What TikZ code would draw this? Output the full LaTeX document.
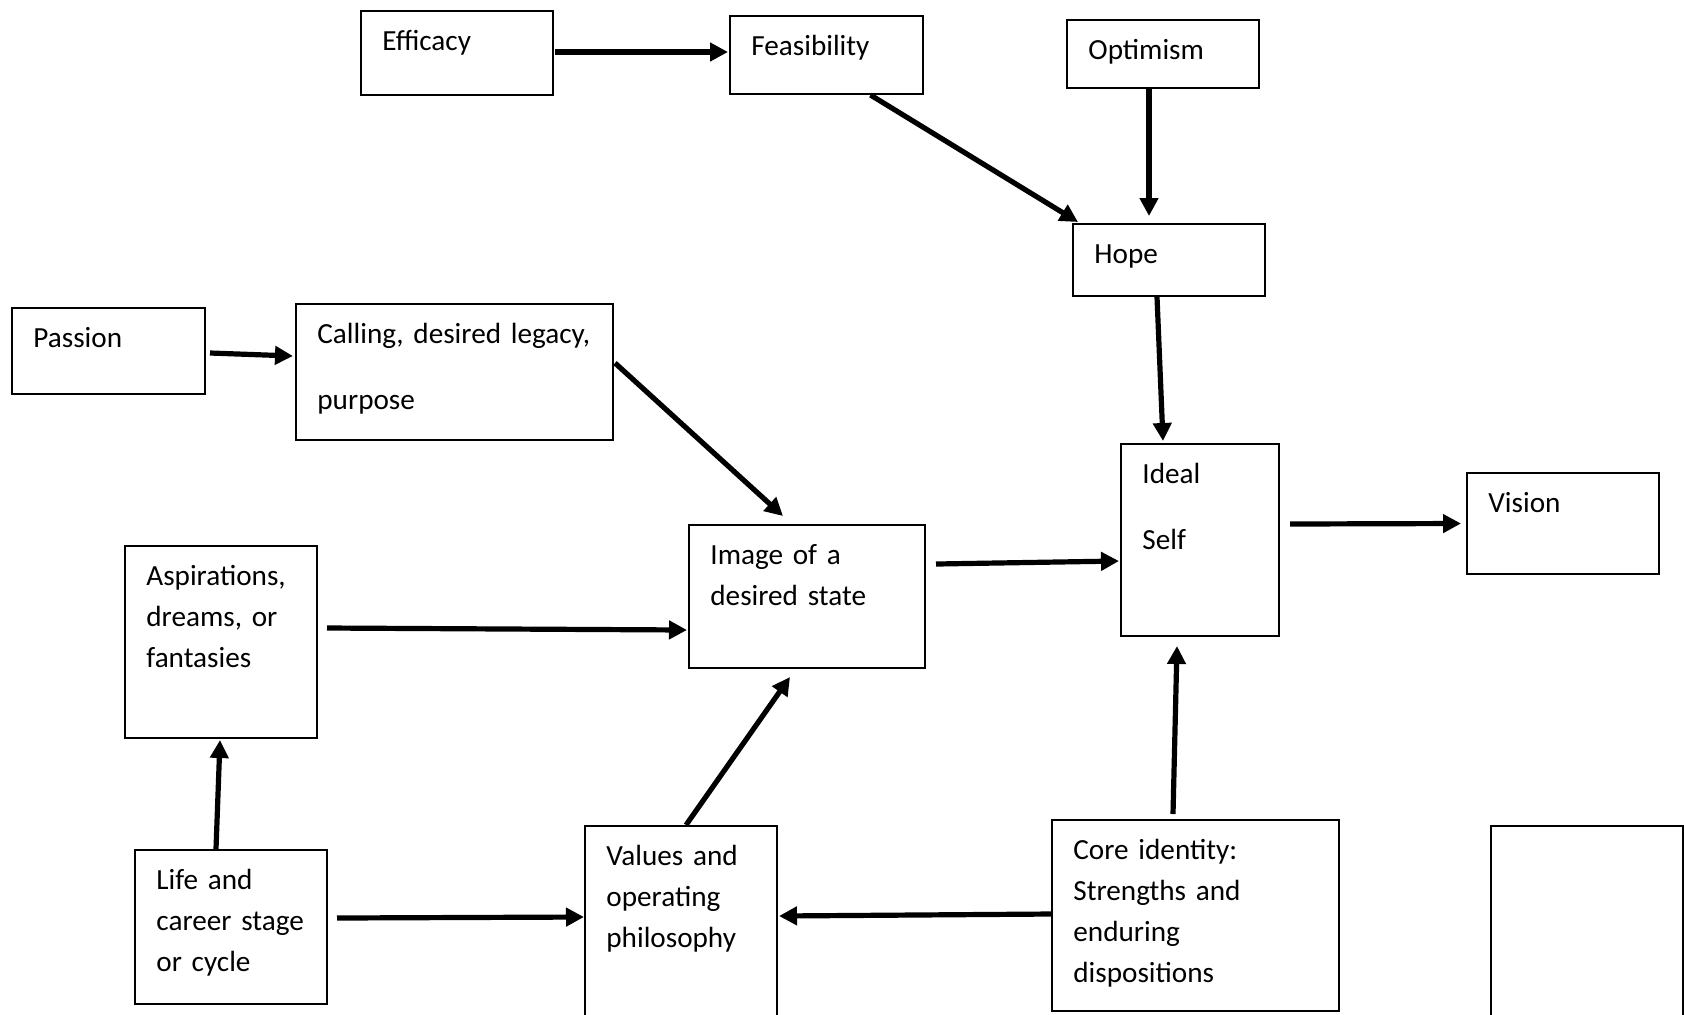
\documentclass[tikz,border=0pt]{standalone}
\usepackage{fontspec}
\setmainfont{Carlito}
\usetikzlibrary{arrows.meta}
\usetikzlibrary{fit}

\begin{document}
\begin{tikzpicture}[x=0.5pt,y=-0.5pt,
  box/.style={draw,line width=1pt,inner sep=0pt},
  lbl/.style={anchor=base west,inner sep=0pt,text width=150pt,font=\fontsize{14.6pt}{20.5pt}\selectfont},
  arr/.style={line width=2.6pt,-{Triangle[length=9pt,width=9pt]}}]
  \newcommand\mkbox[6]{\node[box,fit={(#2,#3) (#4,#5)}] (#1) {};\node[lbl] (#1-txt) at (#2+21,#3+39) {#6};}
  \useasboundingbox (0,0) rectangle (1684,1014);
  \clip (0,0) rectangle (1684,1014);

% top row
  \mkbox{efficacy}{361}{11}{553}{95}{Efficacy}
  \mkbox{feasib}{730}{16}{923}{94}{Feasibility}
  \mkbox{optimism}{1067}{20}{1259}{88}{Optimism}
  \mkbox{hope}{1073}{224}{1265}{296}{Hope}

% middle part
  \mkbox{passion}{12}{308}{205}{394}{Passion}
  \mkbox{calling}{296}{304}{613}{440}{Calling, desired legacy,\\[12.5pt] purpose}
  \mkbox{ideal}{1121}{444}{1279}{636}{Ideal\\[12.5pt] Self}
  \mkbox{vision}{1467}{473}{1659}{574}{Vision}
  \mkbox{image}{689}{525}{925}{668}{Image of a\\ desired state}
  \mkbox{aspir}{125}{546}{317}{738}{Aspirations,\\ dreams, or\\ fantasies}

% bottom row (runs off the page)
  \mkbox{life}{135}{850}{327}{1004}{Life and\\ career stage\\ or cycle}
  \mkbox{values}{585}{826}{777}{1040}{Values and\\ operating\\ philosophy}
  \mkbox{core}{1052}{820}{1339}{1011}{Core identity:\\ Strengths and\\ enduring\\ dispositions}
  \node[box,fit={(1491,826) (1683,1040)}] (blank) {};

% arrows
  \draw[arr] ([shift={(1,-1)}]efficacy.east) -- ([shift={(-1,-3)}]feasib.west);
  \draw[arr] ([shift={(44,0)}]feasib.south) -- ([shift={(6,-1)}]hope.north west);
  \draw[arr] ([shift={(-14,0)}]optimism.south) -- ([shift={(-20,-7)}]hope.north);
  \draw[arr] ([shift={(-12,0)}]hope.south) -- ([shift={(-37,-2)}]ideal.north);
  \draw[arr] ([shift={(4,2)}]passion.east) -- ([shift={(-2,-16)}]calling.west);
  \draw[arr] ([shift={(1,-9)}]calling.east) -- ([shift={(-24,-8)}]image.north);
  \draw[arr] ([shift={(9,-14)}]aspir.east) -- ([shift={(-1,33.5)}]image.west);
  \draw[arr] ([shift={(10,-32.5)}]image.east) -- ([shift={(-1,21)}]ideal.west);
  \draw[arr] ([shift={(10,-16)}]ideal.east) -- ([shift={(-5,0)}]vision.west);
  \draw[arr] ([shift={(-15,0)}]life.north) -- ([shift={(-1,1)}]aspir.south);
  \draw[arr] ([shift={(9,-9)}]life.east) -- ([shift={(0,-16)}]values.west);
  \draw[arr] ([shift={(5,0)}]values.north) -- ([shift={(-17,8)}]image.south);
  \draw[arr] ([shift={(0,-1.5)}]core.west) -- ([shift={(1,-17)}]values.east);
  \draw[arr] ([shift={(-22.5,-5)}]core.north) -- ([shift={(-23,9)}]ideal.south);

\end{tikzpicture}
\end{document}
